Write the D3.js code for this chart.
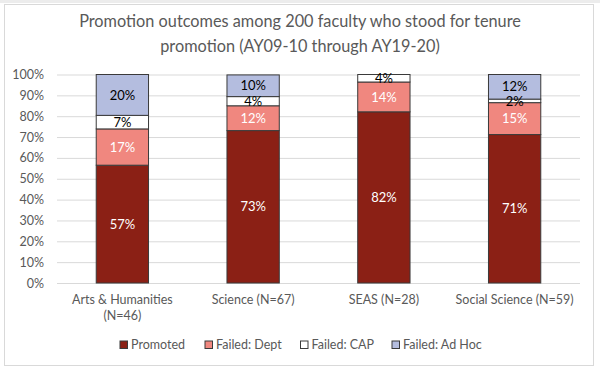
<!DOCTYPE html>
<html>
<head>
<meta charset="utf-8">
<script src="https://cdn.jsdelivr.net/npm/d3@7"></script>
<style>
  body { margin: 0; background: #fff; }
  svg { display: block; font-family: Lato, "Open Sans", sans-serif; }
</style>
</head>
<body>
<script>
// groups and outcome shares (percent of faculty in each group)
const categories = ["Arts & Humanities|(N=46)", "Science (N=67)", "SEAS (N=28)", "Social Science (N=59)"];
const series = ["Promoted", "Failed: Dept", "Failed: CAP", "Failed: Ad Hoc"];
const promoted = [56.5, 73.1, 82.1, 71.2];
const failedDept = [17.4, 11.9, 14.3, 15.3];
const failedCap = [6.5, 4.4, 3.6, 1.7];
const failedAdHoc = [19.6, 10.4, 0, 11.8];
const yTicks = [0, 10, 20, 30, 40, 50, 60, 70, 80, 90, 100];

const colors = ["#8b2015", "#f0877f", "#ffffff", "#b4bddf"];
const labelColors = ["#fff", "#fff", "#000", "#000"];

const W = 600, H = 372;
const margin = { top: 74.5, right: 20, bottom: 89, left: 57 };

const rows = categories.map((c, i) => ({
    cat: c,
    "Promoted": promoted[i],
    "Failed: Dept": failedDept[i],
    "Failed: CAP": failedCap[i],
    "Failed: Ad Hoc": failedAdHoc[i]
}));

const stacked = d3.stack().keys(series)(rows);

const svg = d3.select("body").append("svg")
    .attr("width", W)
    .attr("height", H);

// outer chart frame
svg.append("rect").attr("x", 0).attr("y", 0).attr("width", W).attr("height", 3).attr("fill", "#ececec");
svg.append("rect")
    .attr("x", 4.5).attr("y", 4.5)
    .attr("width", 589).attr("height", 361)
    .attr("fill", "#fff")
    .attr("stroke", "#d9d9d9");

const x = d3.scaleBand()
    .domain(categories)
    .range([margin.left, W - margin.right])
    .paddingInner(0.6)
    .paddingOuter(0.3);

const y = d3.scaleLinear()
    .domain([0, 100])
    .range([H - margin.bottom, margin.top]);

// gridlines
svg.append("g")
    .attr("class", "grid")
    .attr("transform", "translate(" + margin.left + ",0)")
    .call(d3.axisLeft(y)
        .tickValues(yTicks)
        .tickSize(-(W - margin.left - margin.right))
        .tickFormat("")
    )
    .call(g => g.select(".domain").remove())
    .call(g => g.selectAll("line").attr("stroke", "#d9d9d9").attr("stroke-width", 1));

// y axis labels
svg.append("g")
    .attr("transform", "translate(" + (margin.left - 10) + ",0)")
    .call(d3.axisLeft(y).tickValues(yTicks).tickSize(0).tickFormat(d => d + "%"))
    .call(g => g.select(".domain").remove())
    .call(g => g.selectAll("text")
        .attr("x", -3)
        .attr("fill", "#595959")
        .style("font-size", "12.5px")
        .style("font-family", "Lato, 'Open Sans', sans-serif"));

// bars
const layer = svg.append("g").selectAll("g")
    .data(stacked)
    .join("g")
    .attr("fill", (d, i) => colors[i]);

layer.selectAll("rect")
    .data(d => d)
    .join("rect")
    .attr("x", d => x(d.data.cat))
    .attr("y", d => y(d[1]))
    .attr("width", x.bandwidth())
    .attr("height", d => y(d[0]) - y(d[1]))
    .attr("stroke", "#3a3a3a")
    .attr("stroke-width", 1);

// data labels
const fmt = d => Math.round(d) + "%";
svg.append("g").selectAll("g")
    .data(stacked)
    .join("g")
    .attr("fill", (d, i) => labelColors[i])
    .selectAll("text")
    .data(d => d.filter(p => p[1] - p[0] > 0))
    .join("text")
    .attr("x", d => x(d.data.cat) + x.bandwidth() / 2)
    .attr("y", d => (y(d[0]) + y(d[1])) / 2)
    .attr("dy", "0.36em")
    .attr("text-anchor", "middle")
    .style("font-size", "13px")
    .text(d => fmt(d[1] - d[0]));

// x axis labels
const xl = svg.append("g").selectAll("text")
    .data(categories)
    .join("text")
    .attr("x", d => x(d) + x.bandwidth() / 2)
    .attr("y", 304)
    .attr("text-anchor", "middle")
    .attr("fill", "#595959")
    .style("font-size", "12.5px");
xl.selectAll("tspan")
    .data(d => d.split("|"))
    .join("tspan")
    .attr("x", function () { return d3.select(this.parentNode).attr("x"); })
    .attr("dy", (d, i) => i === 0 ? 0 : 16)
    .text(d => d);

// title
svg.append("text")
    .attr("x", W / 2)
    .attr("y", 27)
    .attr("text-anchor", "middle")
    .attr("fill", "#595959")
    .style("font-size", "16.3px")
    .selectAll("tspan")
    .data(["Promotion outcomes among 200 faculty who stood for tenure", "promotion (AY09-10 through AY19-20)"])
    .join("tspan")
    .attr("x", W / 2)
    .attr("dy", (d, i) => i === 0 ? 0 : 25)
    .text(d => d);

// legend
const legendX = [120, 205, 300.5, 392];
const legend = svg.append("g").selectAll("g")
    .data(series)
    .join("g")
    .attr("transform", (d, i) => "translate(" + legendX[i] + ",341)");
legend.append("rect")
    .attr("width", 7.5).attr("height", 7.5)
    .attr("fill", (d, i) => colors[i])
    .attr("stroke", "#3a3a3a")
    .attr("stroke-width", 1);
legend.append("text")
    .attr("x", 11)
    .attr("y", 8)
    .attr("fill", "#595959")
    .style("font-size", "12.5px")
    .text(d => d);
</script>
</body>
</html>
